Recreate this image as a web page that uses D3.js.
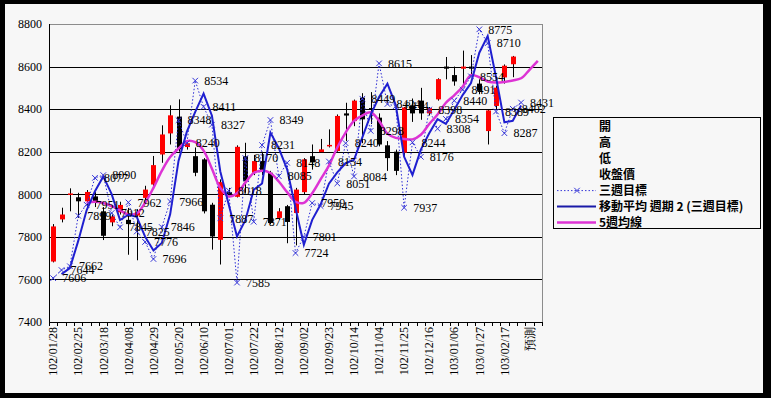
<!DOCTYPE html>
<html>
<head>
<meta charset="utf-8">
<script src="https://cdn.jsdelivr.net/npm/d3@7"></script>
<style>
  body { margin: 0; background: #000; }
  svg { display: block; }
  .axis-label { font-family: "Liberation Serif", serif; font-size: 12px; fill: #000; }
  .data-label { font-family: "Liberation Serif", serif; font-size: 12px; fill: #000; }
  .legend text { font-family: "Noto Sans CJK TC", sans-serif; font-size: 12px; font-weight: bold; fill: #000; }
</style>
</head>
<body>
<svg id="chart" width="771" height="398"></svg>
<script>
"use strict";

// every third week is labelled on the category axis
const tickLabels = [
  "102/01/28", "102/02/25", "102/03/18", "102/04/08", "102/04/29",
  "102/05/20", "102/06/10", "102/07/01", "102/07/22", "102/08/12",
  "102/09/02", "102/09/23", "102/10/14", "102/11/04", "102/11/25",
  "102/12/16", "103/01/06", "103/01/27", "103/02/17", "預測",
];

// weekly candles (開 高 低 收)
const open = [
  7684, 7882, 8000, 7986, 7967, 7990, 7920, 7868, 7915, 7880,
  7900, 7983, 8046, 8187, 8286, 8365, 8222, 8179, 8164, 7951,
  7786, 8010, 7988, 8179, 8101, 8156, 8101, 7889, 7944, 7912,
  8010, 8179, 8198, 8225, 8203, 8380, 8344, 8454, 8405, 8360,
  8230, 8200, 8195, 8418, 8440, 8380, 8446, 8600, 8560, 8590,
  8600, 8520, 8297, 8415, 8549, 8611,
];
const high = [
  7860, 7937, 8028, 8007, 8020, 8010, 7940, 7905, 7965, 7936,
  7930, 8040, 8180, 8324, 8418, 8446, 8255, 8220, 8170, 7960,
  8070, 8030, 8230, 8242, 8185, 8200, 8110, 7935, 7950, 8030,
  8170, 8234, 8260, 8305, 8375, 8430, 8445, 8475, 8480, 8380,
  8250, 8210, 8410, 8450, 8500, 8410, 8545, 8645, 8600, 8675,
  8654, 8540, 8400, 8510, 8610, 8650,
];
const low = [
  7680, 7868, 7920, 7889, 7940, 7940, 7785, 7850, 7905, 7716,
  7690, 7960, 8030, 8148, 8234, 8200, 8210, 8085, 7910, 7740,
  7670, 7995, 7985, 8007, 8090, 8090, 7860, 7880, 7770, 7760,
  8000, 8116, 8195, 8220, 8200, 8250, 8320, 8240, 8330, 8225,
  8110, 8090, 8180, 8340, 8350, 8370, 8440, 8540, 8510, 8510,
  8564, 8470, 8234, 8400, 8520, 8550,
];
const close = [
  7849, 7905, 8004, 7967, 8011, 7960, 7805, 7896, 7950, 7860,
  7915, 8022, 8137, 8281, 8371, 8211, 8240, 8101, 7920, 7802,
  8057, 8000, 8223, 8061, 8156, 8110, 7865, 7920, 7870, 8022,
  8164, 8150, 8211, 8232, 8368, 8370, 8440, 8352, 8398, 8234,
  8170, 8110, 8408, 8380, 8380, 8405, 8541, 8590, 8530, 8600,
  8590, 8486, 8394, 8501, 8604, 8647,
];

// 三週目標
const target = [
  7606, 7644, 7662, 7899, 7951, 8077, 8090, 7912, 7845, 7962,
  7825, 7776, 7696, 7846, 7966, 8348, 8240, 8534, 8411, 8327,
  7887, 8018, 7585, 8170, 7871, 8231, 8349, 8085, 8148, 7724,
  7801, 7959, 7945, 8154, 8051, 8240, 8084, 8449, 8298, 8615,
  8424, 8414, 7937, 8244, 8176, 8398, 8308, 8354, 8440, 8491,
  8554, 8775, 8710, 8389, 8287, 8402, 8431,
];

// 移動平均 週期 2 (三週目標)
const targetAvg = [
  null, 7625, 7653, 7781, 7925, 8014, 8084, 8001, 7879, 7904,
  7894, 7801, 7736, 7771, 7906, 8157, 8294, 8387, 8473, 8369,
  8107, 7953, 7802, 7878, 8021, 8051, 8290, 8217, 8117, 7936,
  7763, 7880, 7952, 8050, 8103, 8146, 8162, 8267, 8374, 8457,
  8520, 8419, 8176, 8091, 8210, 8287, 8353, 8331, 8397, 8466,
  8523, 8665, 8743, 8550, 8338, 8345, 8417,
];

// 5週均線
const avg5 = [
  null, null, null, null, 7959, 7965, 7959, 7945, 7925, 7905,
  7910, 7960, 8030, 8110, 8175, 8215, 8250, 8245, 8205, 8120,
  8030, 7990, 8005, 8055, 8100, 8110, 8100, 8060, 8010, 7965,
  7960, 8005, 8070, 8135, 8220, 8290, 8345, 8370, 8385, 8345,
  8285, 8265, 8260, 8258, 8280, 8330, 8375, 8430, 8465, 8505,
  8560, 8550, 8530, 8525, 8528, 8535, 8545, 8585, 8627,
];

const yTicks = [7400, 7600, 7800, 8000, 8200, 8400, 8600, 8800];

const plot = {left: 49, right: 542, top: 24, bottom: 322};
const weekCount = avg5.length;

const svg = d3.select("#chart");

svg.append("rect")
    .attr("x", 5).attr("y", 4)
    .attr("width", 758).attr("height", 389)
    .attr("fill", "#f7f7f7");

const xScale = d3.scaleBand()
                 .domain(d3.range(weekCount))
                 .range([plot.left, plot.right]);
const xMid = i => xScale(i) + xScale.bandwidth() / 2;

const yScale = d3.scaleLinear()
                 .domain([yTicks[0], yTicks[yTicks.length - 1]])
                 .range([plot.bottom, plot.top]);

// grid and frame
svg.append("g")
    .selectAll("line")
    .data(yTicks.slice(1))
    .join("line")
    .attr("x1", plot.left)
    .attr("x2", plot.right)
    .attr("y1", v => Math.round(yScale(v)) + 0.5)
    .attr("y2", v => Math.round(yScale(v)) + 0.5)
    .attr("stroke", v => v === 8800 ? "#8c8c8c" : "#000")
    .attr("stroke-width", 1);

svg.append("line")
    .attr("x1", plot.right + 0.5).attr("x2", plot.right + 0.5)
    .attr("y1", plot.top).attr("y2", plot.bottom)
    .attr("stroke", "#8c8c8c");

// y axis
svg.append("g")
    .attr("transform", `translate(${plot.left}, 0)`)
    .call(d3.axisLeft(yScale)
            .tickValues(yTicks)
            .tickFormat(d3.format("d"))
            .tickSize(0)
            .tickPadding(7))
    .call(g => g.select(".domain").attr("stroke", "#000").attr("d", `M0.5,${plot.top}V${plot.bottom}`))
    .call(g => g.selectAll("text").attr("class", "axis-label").attr("font-family", null).attr("font-size", null));

// x axis: tick marks at week boundaries, labels every third week
svg.append("g")
    .attr("transform", `translate(0, ${plot.bottom})`)
    .call(d3.axisBottom(xScale)
            .tickValues(d3.range(0, weekCount, 3).filter(i => i / 3 < tickLabels.length))
            .tickFormat(i => tickLabels[i / 3])
            .tickSize(0)
            .tickPadding(5))
    .call(g => g.select(".domain").attr("stroke", "#000").attr("d", `M${plot.left},0.5H${plot.right}`))
    .call(g => g.selectAll("text")
                .attr("class", "axis-label")
                .attr("font-family", null).attr("font-size", null)
                .attr("transform", "rotate(-90)")
                .attr("text-anchor", "end")
                .attr("x", -5)
                .attr("y", 0)
                .attr("dy", "0.35em"));

svg.append("g")
    .selectAll("line")
    .data(d3.range(weekCount + 1))
    .join("line")
    .attr("x1", i => Math.round(plot.left + i * xScale.step()) + 0.5)
    .attr("x2", i => Math.round(plot.left + i * xScale.step()) + 0.5)
    .attr("y1", plot.bottom)
    .attr("y2", plot.bottom + 4)
    .attr("stroke", "#000");

// candles
const candles = svg.append("g")
    .selectAll("g")
    .data(open.map((o, i) => ({i, o, h: high[i], l: low[i], c: close[i]})))
    .join("g");

candles.append("line")
    .attr("x1", d => Math.round(xMid(d.i)) + 0.5)
    .attr("x2", d => Math.round(xMid(d.i)) + 0.5)
    .attr("y1", d => yScale(d.h))
    .attr("y2", d => yScale(d.l))
    .attr("stroke", "#000");

candles.append("rect")
    .attr("x", d => Math.round(xMid(d.i)) - 2)
    .attr("y", d => yScale(Math.max(d.o, d.c)))
    .attr("width", 5)
    .attr("height", d => Math.max(1.5, Math.abs(yScale(d.o) - yScale(d.c))))
    .attr("fill", d => d.c >= d.o ? "#ff0000" : "#000");

// 三週目標 dotted line
svg.append("path")
    .datum(target)
    .attr("fill", "none")
    .attr("stroke", "#2b2bd6")
    .attr("stroke-width", 1)
    .attr("stroke-dasharray", "1.5,2")
    .attr("d", d3.line().x((d, i) => xMid(i)).y(d => yScale(d)));

// 5週均線
svg.append("path")
    .datum(avg5)
    .attr("fill", "none")
    .attr("stroke", "#dd33d4")
    .attr("stroke-width", 2.5)
    .attr("d", d3.line()
                 .defined(d => d !== null)
                 .curve(d3.curveCatmullRom.alpha(0.5))
                 .x((d, i) => xMid(i))
                 .y(d => yScale(d)));

// 移動平均 週期 2
svg.append("path")
    .datum(targetAvg)
    .attr("fill", "none")
    .attr("stroke", "#1f1fd0")
    .attr("stroke-width", 2)
    .attr("d", d3.line()
                 .defined(d => d !== null)
                 .x((d, i) => xMid(i))
                 .y(d => yScale(d)));

// target markers and value labels
svg.append("g")
    .selectAll("path")
    .data(target)
    .join("path")
    .attr("transform", (d, i) => `translate(${xMid(i)}, ${yScale(d)})`)
    .attr("d", d3.symbol(d3.symbolX, 22))
    .attr("fill", "none")
    .attr("stroke", "#3535d8")
    .attr("stroke-width", 1);

svg.append("g")
    .selectAll("text")
    .data(target)
    .join("text")
    .attr("class", "data-label")
    .attr("x", (d, i) => xMid(i) + 9)
    .attr("y", d => yScale(d))
    .attr("dy", "0.35em")
    .text(d => d);

// legend
const legendItems = [
  {label: "開"},
  {label: "高"},
  {label: "低"},
  {label: "收盤價"},
  {label: "三週目標", stroke: "#3535d8", dash: "1.5,2", width: 1, marker: true},
  {label: "移動平均  週期 2 (三週目標)", stroke: "#1a1aa8", width: 2},
  {label: "5週均線", stroke: "#dd33d4", width: 2.5},
];

const legend = svg.append("g").attr("class", "legend");

legend.append("rect")
    .attr("x", 553.5).attr("y", 117.5)
    .attr("width", 207).attr("height", 111)
    .attr("fill", "none")
    .attr("stroke", "#000");

const entry = legend.selectAll("g")
    .data(legendItems)
    .join("g")
    .attr("transform", (d, i) => `translate(0, ${127 + i * 15.9})`);

entry.filter(d => d.stroke)
    .append("line")
    .attr("x1", 557).attr("x2", 596)
    .attr("stroke", d => d.stroke)
    .attr("stroke-width", d => d.width)
    .attr("stroke-dasharray", d => d.dash || null);

entry.filter(d => d.marker)
    .append("path")
    .attr("transform", "translate(577, 0)")
    .attr("d", d3.symbol(d3.symbolX, 22))
    .attr("fill", "none")
    .attr("stroke", "#3535d8");

entry.append("text")
    .attr("x", 599)
    .attr("dy", "0.35em")
    .text(d => d.label);
</script>
</body>
</html>
